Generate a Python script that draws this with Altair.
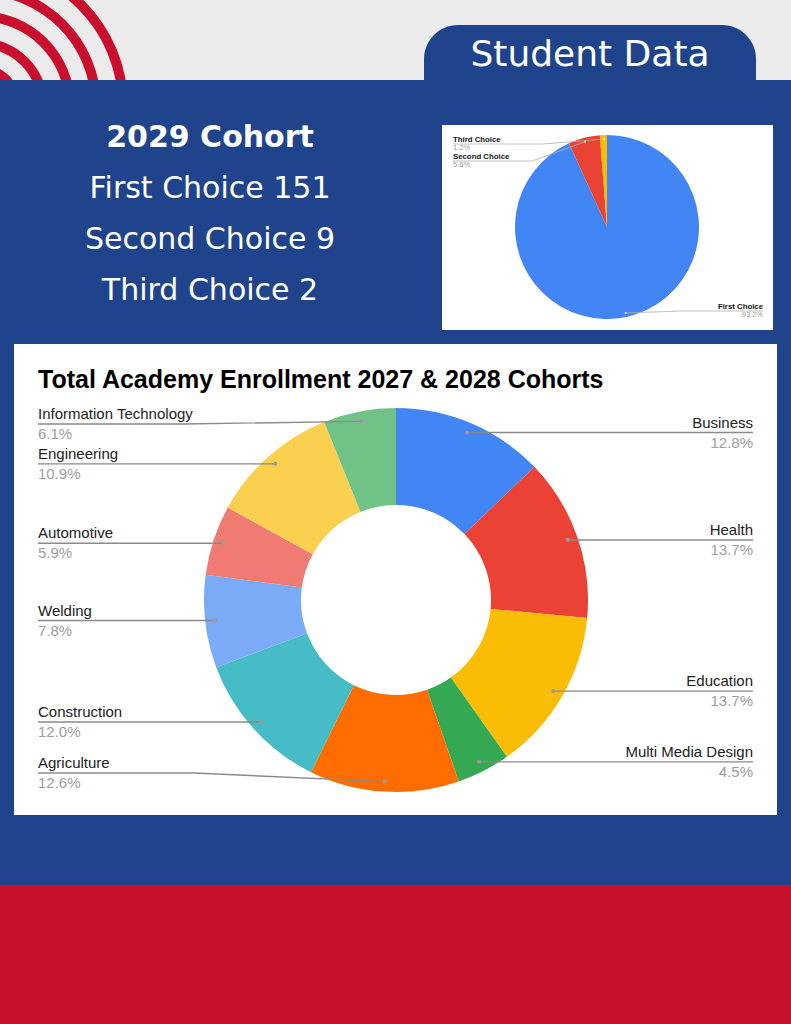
import math
import altair as alt
import pandas as pd

W, H = 791, 1024

# ---------------- data ----------------
header_text = "Student Data"
cohort_title = "2029 Cohort"
cohort_labels = ["First Choice", "Second Choice", "Third Choice"]
cohort_counts = [151, 9, 2]

chart_title = "Total Academy Enrollment 2027 & 2028 Cohorts"
academies = ["Business", "Health", "Education", "Multi Media Design", "Agriculture",
             "Construction", "Welding", "Automotive", "Engineering", "Information Technology"]
academy_share = [12.8, 13.7, 13.7, 4.5, 12.6, 12.0, 7.8, 5.9, 10.9, 6.1]

# ---------------- styles ----------------
BLUE = "#1F448C"
RED = "#C8102E"
GRAY = "#EBEBEB"
cohort_palette = ["#4285F4", "#EA4335", "#FBBC04"]
academy_palette = ["#4285F4", "#EA4335", "#FBBC04", "#34A853", "#FF6D01",
                   "#46BDC6", "#7BAAF7", "#F07B72", "#FCD04F", "#71C287"]
HEAD_FONT = "DejaVu Sans"
CHART_FONT = "Liberation Sans"

xs = alt.Scale(domain=[0, W], nice=False, zero=False)
ys = alt.Scale(domain=[0, H], nice=False, zero=False, reverse=True)
one = pd.DataFrame({"k": [0]})


def X(f):
    return alt.X(f, type="quantitative", scale=xs, axis=None)


def Y(f):
    return alt.Y(f, type="quantitative", scale=ys, axis=None)


def rect(x, x2, y, y2, color, **kw):
    return alt.Chart(one).mark_rect(color=color, **kw).encode(
        x=alt.value(x), x2=alt.value(x2), y=alt.value(y), y2=alt.value(y2))


def text(t, x, y, size, color="white", font=HEAD_FONT, weight="normal", align="center"):
    return alt.Chart(one).mark_text(
        align=align, baseline="alphabetic", font=font, fontSize=size,
        fontWeight=weight, color=color).encode(
        x=alt.value(x), y=alt.value(y), text=alt.value(t))


def ring(r):
    return alt.Chart(one).mark_arc(
        innerRadius=r - 5, outerRadius=r + 5, theta=0, theta2=2 * math.pi,
        color=RED).encode(x=alt.value(-20), y=alt.value(106))


def leaders(names, values, cx, cy, r_dot, left_x, right_x, lo, hi, gap, frac, fmt):
    total = float(sum(values))
    cum = 0.0
    items = []
    for n, v in zip(names, values):
        mid = (cum + v / 2.0) / total
        cum += v
        a = 2 * math.pi * mid
        items.append(dict(name=n, pct=fmt(100.0 * v / total),
                          dx=cx + r_dot * math.sin(a), dy=cy - r_dot * math.cos(a),
                          side="right" if mid < 0.5 else "left"))
    pts, labs, dots = [], [], []
    for side in ("left", "right"):
        group = sorted([it for it in items if it["side"] == side], key=lambda d: d["dy"])
        prev = None
        for it in group:
            ly = min(max(it["dy"], lo), hi)
            if prev is not None and ly < prev + gap:
                ly = prev + gap
            prev = ly
            end = left_x if side == "left" else right_x
            elbow = end + frac * (it["dx"] - end)
            for k, (px, py) in enumerate([(it["dx"], it["dy"]), (elbow, ly), (end, ly)]):
                pts.append(dict(name=it["name"], k=k, px=px, py=py))
            labs.append(dict(name=it["name"], pct=it["pct"], side=side, tx=end, ly=ly))
            dots.append(dict(px=it["dx"], py=it["dy"]))
    return pd.DataFrame(pts), pd.DataFrame(labs), pd.DataFrame(dots)


def label_layers(lab, font, size_name, size_pct, weight, name_off, pct_off, name_color, pct_color):
    out = []
    lab = lab.copy()
    lab["ny"] = lab["ly"] + name_off
    lab["py2"] = lab["ly"] + pct_off
    for side in ("left", "right"):
        d = lab[lab["side"] == side]
        if d.empty:
            continue
        out.append(alt.Chart(d).mark_text(
            align=side, baseline="alphabetic", font=font, fontSize=size_name,
            fontWeight=weight, color=name_color).encode(
            x=X("tx"), y=Y("ny"), text="name:N"))
        out.append(alt.Chart(d).mark_text(
            align=side, baseline="alphabetic", font=font, fontSize=size_pct,
            color=pct_color).encode(
            x=X("tx"), y=Y("py2"), text="pct:N"))
    return out


# ---------------- background / decoration ----------------
layers = [ring(r) for r in (143, 116, 90, 63, 37)]
layers += [
    rect(0, W, 80, 885, BLUE),
    rect(424, 756, 25, 95, BLUE, cornerRadiusTopLeft=34, cornerRadiusTopRight=34),
    rect(0, W, 885, H, RED),
    rect(442, 773, 125, 330, "white"),
    rect(14, 777, 344, 815, "white"),
    text(header_text, 590, 66, 36),
    text(cohort_title, 210, 147, 30, weight="bold"),
]
for i, (lbl, cnt) in enumerate(zip(cohort_labels, cohort_counts)):
    layers.append(text(f"{lbl} {cnt}", 210, 198 + 51 * i, 30))

# ---------------- small pie (2029 cohort) ----------------
df_c = pd.DataFrame({"name": cohort_labels, "count": cohort_counts,
                     "idx": list(range(len(cohort_labels)))})
pie_small = alt.Chart(df_c).mark_arc(outerRadius=92).encode(
    theta=alt.Theta("count:Q", stack=True),
    order=alt.Order("idx:Q"),
    color=alt.Color("name:N", scale=alt.Scale(domain=cohort_labels, range=cohort_palette), legend=None),
    x=alt.value(607), y=alt.value(227))
layers.append(pie_small)

s_pts, s_lab, s_dots = leaders(cohort_labels, cohort_counts, 607, 227, 88, 453, 763,
                               144, 311, 17, 0.6, lambda p: f"{p:.1f}%")
layers.append(alt.Chart(s_pts).mark_line(color="#b0b0b0", strokeWidth=0.8).encode(
    x=X("px"), y=Y("py"), detail="name:N", order="k:Q"))
layers.append(alt.Chart(s_dots).mark_circle(color="#d8d8d8", size=5, opacity=1).encode(
    x=X("px"), y=Y("py")))
layers += label_layers(s_lab, CHART_FONT, 7.8, 7.5, "bold", -1.8, 6.3, "#111111", "#9E9E9E")

# ---------------- donut (academies) ----------------
df_a = pd.DataFrame({"name": academies, "share": academy_share,
                     "idx": list(range(len(academies)))})
donut = alt.Chart(df_a).mark_arc(innerRadius=95, outerRadius=192).encode(
    theta=alt.Theta("share:Q", stack=True),
    order=alt.Order("idx:Q"),
    color=alt.Color("name:N", scale=alt.Scale(domain=academies, range=academy_palette), legend=None),
    x=alt.value(396), y=alt.value(600))
layers.append(donut)

b_pts, b_lab, b_dots = leaders(academies, academy_share, 396, 600, 182, 38, 753,
                               424, 773, 30, 0.45, lambda p: f"{p:.1f}%")
layers.append(alt.Chart(b_pts).mark_line(color="#8a8a8a", strokeWidth=1.4).encode(
    x=X("px"), y=Y("py"), detail="name:N", order="k:Q"))
layers.append(alt.Chart(b_dots).mark_circle(color="#9a9a9a", size=18, opacity=1).encode(
    x=X("px"), y=Y("py")))
layers += label_layers(b_lab, CHART_FONT, 15, 15, "normal", -5, 15, "#222222", "#9E9E9E")

layers.append(text(chart_title, 38, 388, 25, color="#000000", font=CHART_FONT,
                   weight="bold", align="left"))

chart = alt.layer(*layers).resolve_scale(
    theta="independent", color="independent"
).properties(
    width=W, height=H, autosize="none", padding=0, background=GRAY
).configure_view(stroke="transparent")

chart.save("out.html", embed_options={"renderer": "svg", "actions": False})
